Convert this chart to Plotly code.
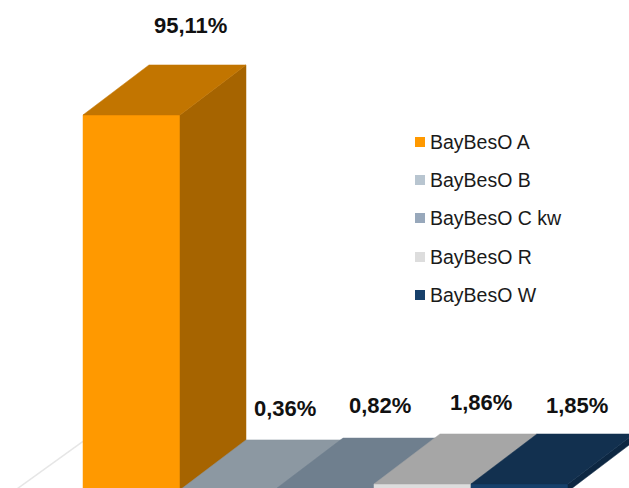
import plotly.graph_objects as go

categories = ["BayBesO A", "BayBesO B", "BayBesO C kw", "BayBesO R", "BayBesO W"]
shares = [95.11, 0.36, 0.82, 1.86, 1.85]
labels = ["95,11%", "0,36%", "0,82%", "1,86%", "1,85%"]

front_colors = ["#ff9900", "#b8c5d0", "#98a8bb", "#dddddd", "#17406b"]
top_colors = ["#c27500", "#8c98a2", "#6f7f8e", "#a6a6a6", "#12304f"]
side_colors = ["#a66400", "#76828c", "#5c6b79", "#8c8c8c", "#0d2742"]

W, H = 629, 488
# pixel geometry of the value and category scales
BAR_PX, LEFT_PX = 97.0, 83.0
PX_PER_UNIT, ZERO_PX = 3.957, 491.3
DX = 66 / BAR_PX          # oblique depth in category units
DY = 50 / PX_PER_UNIT     # oblique depth in value units

x_range = [-LEFT_PX / BAR_PX, (W - LEFT_PX) / BAR_PX]
y_range = [(ZERO_PX - H) / PX_PER_UNIT, ZERO_PX / PX_PER_UNIT]

fig = go.Figure()

# floor edge
fig.add_trace(go.Scatter(
    x=[0, -DX], y=[DY, 0.6], mode="lines",
    line=dict(color="#e6e6e6", width=1.5), hoverinfo="skip", showlegend=False))


def face(xs, ys, color):
    fig.add_trace(go.Scatter(
        x=xs, y=ys, fill="toself", mode="lines",
        line=dict(width=0.5, color=color), fillcolor=color,
        hoverinfo="skip", showlegend=False))


for i, v in enumerate(shares):
    face([i, i + 1, i + 1, i, i], [0, 0, v, v, 0], front_colors[i])
    face([i + 1, i + 1 + DX, i + 1 + DX, i + 1, i + 1], [v, v + DY, DY, 0, v], side_colors[i])
    face([i, i + DX, i + 1 + DX, i + 1, i], [v, v + DY, v + DY, v, v], top_colors[i])

annotations = []
label_px = [(190, 25), (285, 408), (380, 405), (481, 402), (577, 405)]
for text, (px, py) in zip(labels, label_px):
    annotations.append(dict(
        x=px / W, y=1 - py / H, xref="paper", yref="paper", text=f"<b>{text}</b>",
        showarrow=False, xanchor="center", yanchor="middle",
        font=dict(family="Liberation Sans", size=22, color="#111111")))

shapes = []
legend_y = [142, 180, 218, 257, 295]
for name, color, py in zip(categories, front_colors, legend_y):
    shapes.append(dict(
        type="rect", xref="paper", yref="paper",
        x0=415 / W, x1=425 / W, y0=1 - (py - 5) / H, y1=1 - (py + 5) / H,
        fillcolor=color, line=dict(width=0)))
    annotations.append(dict(
        x=427.5 / W, y=1 - py / H, xref="paper", yref="paper", text=name,
        showarrow=False, xanchor="left", yanchor="middle",
        font=dict(family="Liberation Sans", size=19.5, color="#1a1a1a")))

fig.update_layout(
    width=W, height=H, margin=dict(l=0, r=0, t=0, b=0),
    paper_bgcolor="white", plot_bgcolor="white",
    showlegend=False, annotations=annotations, shapes=shapes,
    xaxis=dict(range=x_range, visible=False, fixedrange=True),
    yaxis=dict(range=y_range, visible=False, fixedrange=True),
)

fig.write_html("out.html", config=dict(displayModeBar=False),
               post_script="document.body.style.margin='0';document.body.style.overflow='hidden';")
